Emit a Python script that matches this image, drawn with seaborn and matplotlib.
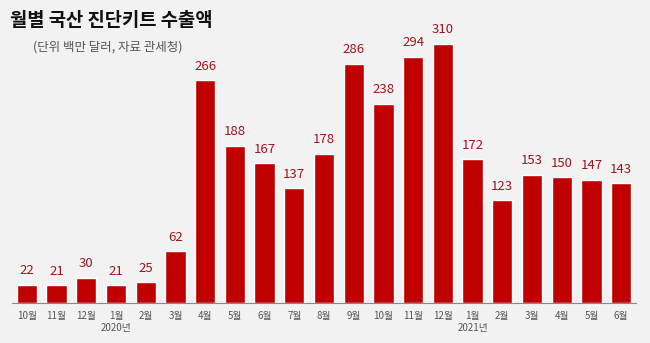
import numpy as np
import pandas as pd
import seaborn as sns
import matplotlib.pyplot as plt

# monthly export values (million USD)
months = ["10월", "11월", "12월", "1월", "2월", "3월", "4월", "5월", "6월", "7월", "8월",
          "9월", "10월", "11월", "12월", "1월", "2월", "3월", "4월", "5월", "6월"]
values = [22, 21, 30, 21, 25, 62, 266, 188, 167, 137, 178,
          286, 238, 294, 310, 172, 123, 153, 150, 147, 143]
year_labels = {3: "2020년", 15: "2021년"}

sns.set_style("white")
plt.rcParams['font.family'] = ['Noto Sans CJK KR', 'DejaVu Sans']

bg = "#f2f2f2"
bar_color = "#c00000"
label_color = "#a0141e"

df = pd.DataFrame({"idx": range(len(values)), "value": values})

fig = plt.figure(figsize=(6.5, 3.43), dpi=100, facecolor=bg)
ax = fig.add_axes([12 / 650, 40 / 343, 624 / 650, 272 / 343])
ax.set_facecolor(bg)

sns.barplot(data=df, x="idx", y="value", color=bar_color, width=0.68,
            saturation=1, ax=ax)

ax.set_xlim(-0.5, len(values) - 0.5)
ax.set_ylim(0, 325)

for i, v in enumerate(values):
    ax.text(i, v + 9, str(v), ha="center", va="bottom", fontsize=9.5,
            color=label_color)

ax.set_xticks(range(len(values)))
ax.set_xticklabels(months, fontsize=7, color="#555555")
ax.tick_params(axis="x", which="major", length=0, pad=6)
ax.set_xticks(np.arange(-0.5, len(values)), minor=True)
ax.tick_params(axis="x", which="minor", length=3, color="#888888", width=0.8)
ax.set_yticks([])
ax.set_xlabel("")
ax.set_ylabel("")

for i, lab in year_labels.items():
    ax.text(i, -0.075, lab, transform=ax.get_xaxis_transform(), ha="center",
            va="top", fontsize=7, color="#555555")

for s in ["top", "right", "left"]:
    ax.spines[s].set_visible(False)
ax.spines["bottom"].set_color("#888888")
ax.spines["bottom"].set_linewidth(0.8)

fig.text(10 / 650, 1 - 21 / 343, "월별 국산 진단키트 수출액", fontsize=13.5,
         fontweight="bold", color="#111111", va="center", ha="left")
fig.text(33 / 650, 1 - 47 / 343, "(단위 백만 달러, 자료 관세청)", fontsize=9,
         color="#555555", va="center", ha="left")

fig.savefig("out.png", dpi=100, facecolor=bg)
